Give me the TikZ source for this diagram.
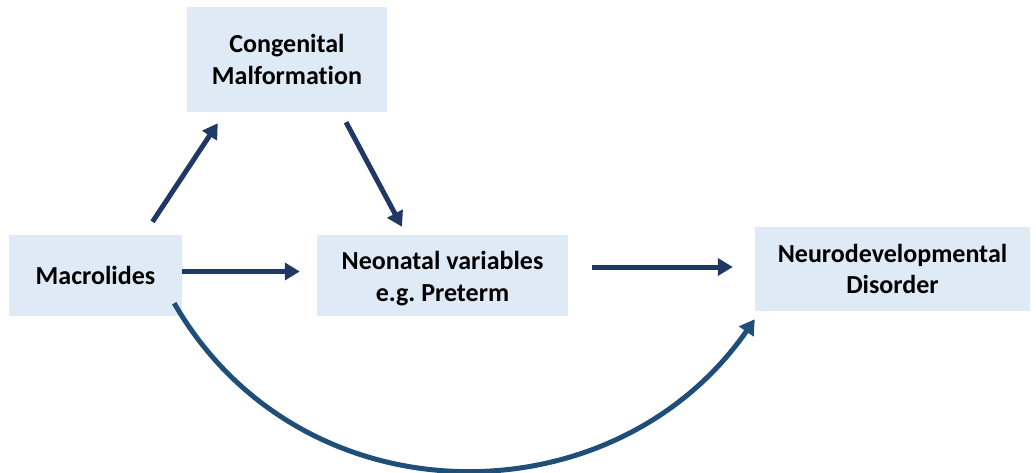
\documentclass[tikz,border=0pt]{standalone}
\usepackage{fontspec}
\setmainfont{Carlito}[Ligatures=NoCommon]
\usetikzlibrary{arrows.meta,calc}
\frenchspacing
\definecolor{boxfill}{HTML}{DEEBF7}
\definecolor{navy}{HTML}{203864}
\definecolor{steel}{HTML}{1F4E79}
% lowers a block of centred lines without changing its reported size
\newcommand{\lowerlines}[2]{\raisebox{-#1}[\height][\depth]{\begin{tabular}{@{}c@{}}#2\end{tabular}}}
\begin{document}
\begin{tikzpicture}[x=1pt,y=-1pt,
  box/.style={fill=boxfill,draw=none,inner sep=0pt,align=center,
    font=\fontsize{26}{31.7}\selectfont\bfseries},
  arr/.style={draw=navy,line width=5pt,-{Triangle[length=15pt,width=17pt]}},
  curvearr/.style={draw=steel,line width=5pt,-{Triangle[length=15pt,width=17pt]}}]
\useasboundingbox (0,0) rectangle (1036,473);

% boxes
\node[box,minimum width=200pt,minimum height=105pt] (cong) at (287,59.5) {Congenital\\Malformation};
\node[box,minimum width=173pt,minimum height=81pt] (mac) at (95.5,275.5) {Macrolides};
\node[box,minimum width=251pt,minimum height=81pt] (neo) at (442.5,275.5) {\lowerlines{4pt}{Neonatal variables\\e.g. Preterm}};
\node[box,minimum width=275pt,minimum height=84pt] (neuro) at (892.5,269) {Neurodevelopmental\\Disorder};

% straight connectors
\draw[arr] ($(mac.north)+(57,-13)$) -- ($(cong.south west)+(31,11)$);
\draw[arr] ($(cong.south)+(59,10)$) -- ($(neo.north)+(-40.5,-8)$);
\draw[arr] ($(mac.east)+(0,-4)$) -- ($(neo.west)+(-17,-4)$);
\draw[arr] ($(neo.east)+(24,-8.5)$) -- ($(neuro.west)+(-22,-2)$);

% direct path below
\draw[curvearr] ($(mac.south east)+(-8,-13)$) .. controls (301,523) and (613,523) .. ($(neuro.south west)+(0,8)$);
\end{tikzpicture}
\end{document}
